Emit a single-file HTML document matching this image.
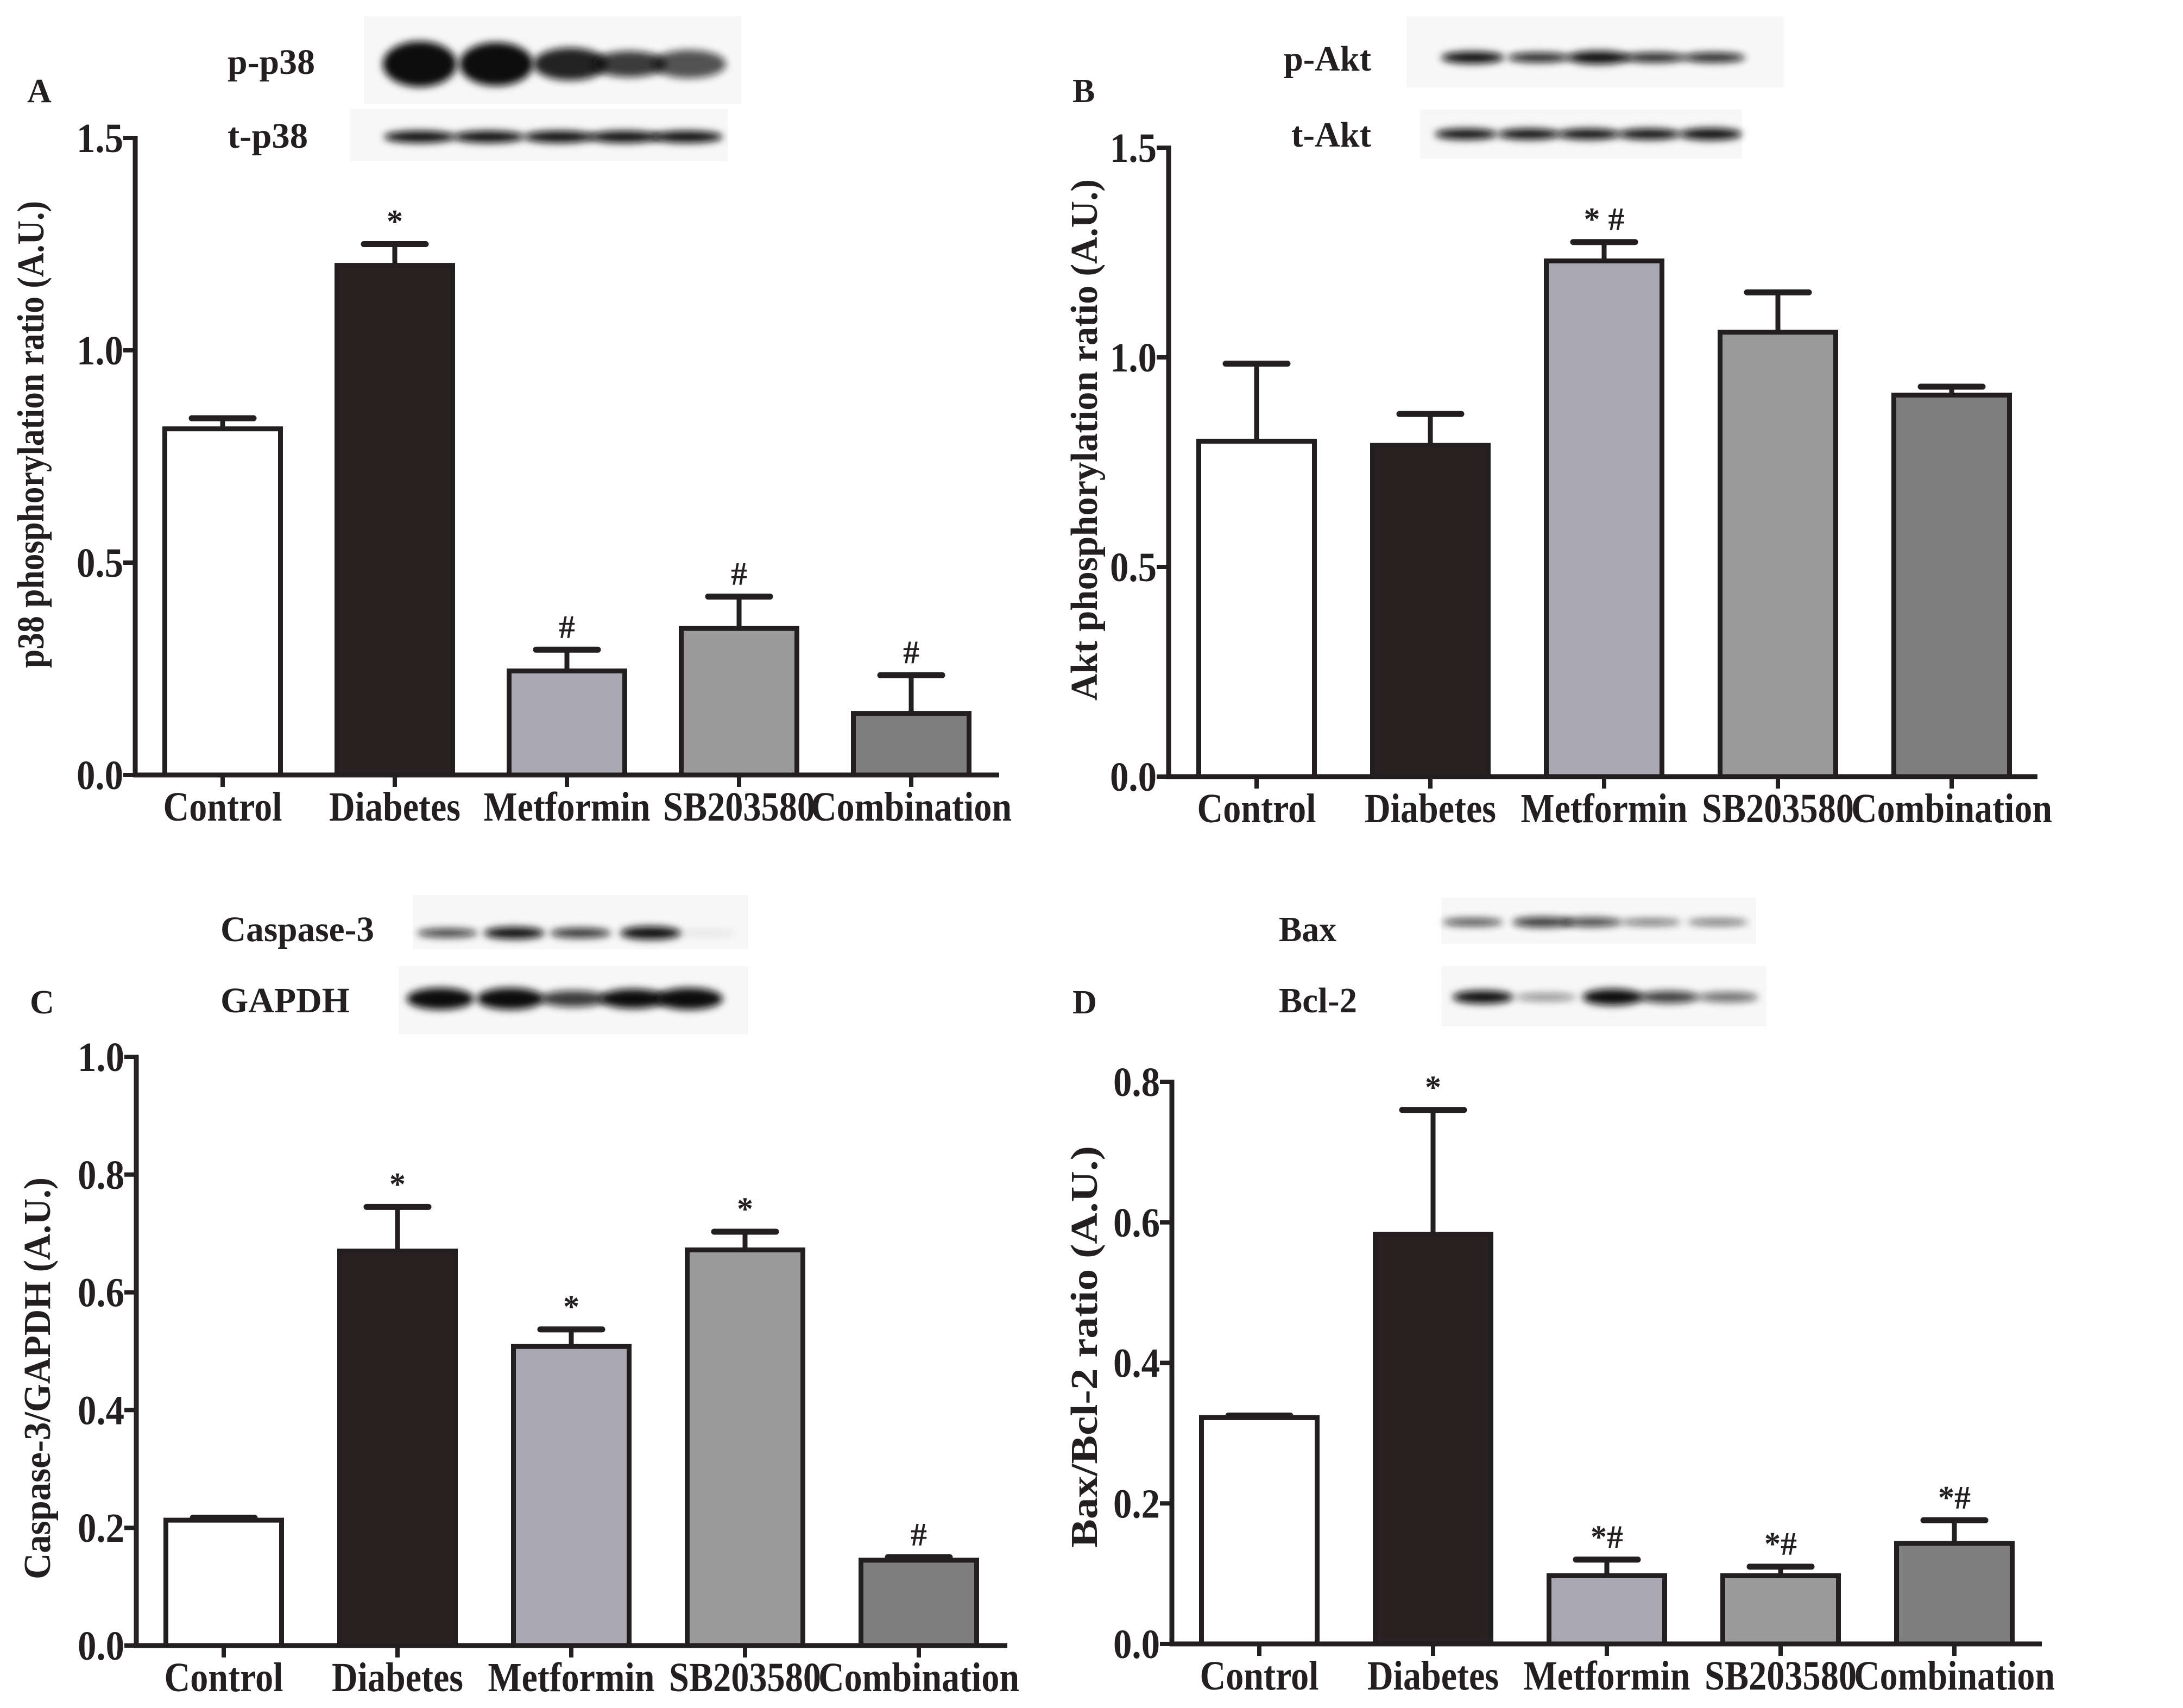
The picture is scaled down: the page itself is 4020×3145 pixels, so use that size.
<!DOCTYPE html>
<html><head><meta charset="utf-8"><style>
html,body{margin:0;padding:0;background:#fff}
svg{display:block}
text{font-family:"Liberation Serif",serif;font-weight:bold;fill:#231f20}
</style></head><body>
<svg id="fig" width="4020" height="3145" viewBox="0 0 4020 3145" xmlns="http://www.w3.org/2000/svg">
<defs>
<filter id="blur" x="-50%" y="-200%" width="200%" height="500%"><feGaussianBlur stdDeviation="7"/></filter>
</defs>
</svg>
<script>
const categories = ["Control","Diabetes","Metformin","SB203580","Combination"];
const aValues = [0.815, 1.20, 0.245, 0.345, 0.145];
const aErrTop = [0.84, 1.25, 0.295, 0.42, 0.235];
const aMarks = ["", "*", "#", "#", "#"];
const aTicks = ["0.0","0.5","1.0","1.5"];
const bValues = [0.80, 0.79, 1.23, 1.06, 0.91];
const bErrTop = [0.985, 0.865, 1.275, 1.155, 0.93];
const bMarks = ["", "", "* #", "", ""];
const bTicks = ["0.0","0.5","1.0","1.5"];
const cValues = [0.213, 0.67, 0.508, 0.672, 0.145];
const cErrTop = [0.217, 0.745, 0.537, 0.703, 0.150];
const cMarks = ["", "*", "*", "*", "#"];
const cTicks = ["0.0","0.2","0.4","0.6","0.8","1.0"];
const dValues = [0.322, 0.583, 0.097, 0.097, 0.143];
const dErrTop = [0.325, 0.76, 0.120, 0.110, 0.176];
const dMarks = ["", "*", "*#", "*#", "*#"];
const dTicks = ["0.0","0.2","0.4","0.6","0.8"];

const fills = ["#ffffff","#2a2123","#aaa9b3","#9a9a9a","#7f7f7f"];
const labelW = [219,242,307,280,370];
const NS = "http://www.w3.org/2000/svg";
const svg = document.getElementById('fig');
function el(tag, attrs, parent){
  const e = document.createElementNS(NS, tag);
  for (const k in attrs) e.setAttribute(k, attrs[k]);
  (parent||svg).appendChild(e);
  return e;
}

function panel(p){
  const g = el('g', {});
  
  
  const ymax = parseFloat(p.ticks[p.ticks.length-1]);
  const yScale = v => p.y0 - (v/ymax)*(p.y0 - p.yTop);
  const xScale = i => p.x0 + p.first + i*p.step;
  p.values.forEach((v,i)=>{
    const cx = xScale(i), bw = 213;
    const ey = yScale(p.err[i]), by = yScale(v);
    const eb = el('line', {x1:cx, x2:cx, y1:ey, y2:by, stroke:'#231f20','stroke-width':9}, g);
    
    
    const cap = el('line', {x1:cx-57, x2:cx+57, y1:ey, y2:ey, stroke:'#231f20','stroke-width':11,'stroke-linecap':'round'}, g);
    
    
    const r = el('rect', {x:cx-bw/2, y:by, width:bw, height:p.y0-by, fill:fills[i], stroke:'#231f20','stroke-width':9}, g);
    
    
    if (p.marks[i]) {
      const t = el('text', {x:cx, y:ey-22, 'font-size':60, 'text-anchor':'middle', 'font-weight':'normal'}, g);
      t.textContent = p.marks[i];
      
      
    }
    const tk = el('line', {x1:cx, x2:cx, y1:p.y0, y2:p.y0+22, stroke:'#231f20','stroke-width':8}, g);
    
    
    const lb = el('text', {x:cx, y:p.y0+84, 'font-size':76, 'text-anchor':'middle', textLength:labelW[i], lengthAdjust:'spacingAndGlyphs'}, g);
    lb.textContent = categories[i];
    
    
  });
  const ya = el('line', {x1:p.x0, x2:p.x0, y1:p.yTop-4, y2:p.y0+4, stroke:'#231f20','stroke-width':9}, g);
  
  
  const xa = el('line', {x1:p.x0-4, x2:p.xEnd, y1:p.y0, y2:p.y0, stroke:'#231f20','stroke-width':9}, g);
  
  
  p.ticks.forEach(t=>{
    const y = yScale(parseFloat(t));
    const tl = el('line', {x1:p.x0-22, x2:p.x0, y1:y, y2:y, stroke:'#231f20','stroke-width':8}, g);
    
    
    const tt = el('text', {x:p.x0-22, y:y+26, 'font-size':76, 'text-anchor':'end', textLength:86, lengthAdjust:'spacingAndGlyphs'}, g);
    tt.textContent = t;
    
    
  });
  const yt = el('text', {x:0, y:0, 'font-size':70, 'text-anchor':'middle', textLength:p.titleLen, lengthAdjust:'spacingAndGlyphs',
    transform:`translate(${p.titleX},${p.titleY}) rotate(-90)`}, g);
  yt.textContent = p.title;
  
  
  const pl = el('text', {x:p.letterX, y:p.letterY, 'font-size':62}, g);
  pl.textContent = p.letter;
  
  
}

function blot(b){
  const g = el('g', {});
  
  
  el('rect', {x:b.x, y:b.y, width:b.w, height:b.h, fill:'#f7f7f7'}, g);
  b.lanes.forEach((lx,i)=>{
    const band = el('ellipse', {cx:lx, cy:b.by, rx:b.rx, ry:b.ry[i], fill:'#111', opacity:b.op[i], filter:'url(#blur)'}, g);
    
    
  });
  const t = el('text', {x:b.lx, y:b.ly, 'font-size':66, textLength:b.lw, lengthAdjust:'spacingAndGlyphs'}, g);
  t.textContent = b.label;
  
  
}

blot({name:'blot-p-p38', x:670,y:30,w:695,h:162, by:118, rx:68, ry:[42,40,30,24,26], op:[1,1,0.9,0.8,0.7], lanes:[773,914,1050,1159,1269], label:'p-p38', lx:419, ly:136, lw:161});
blot({name:'blot-t-p38', x:644,y:200,w:696,h:97, by:252, rx:66, ry:[11,11,11,11,11], op:[1,1,1,1,1], lanes:[773,900,1030,1150,1265], label:'t-p38', lx:419, ly:272, lw:148});
blot({name:'blot-p-akt', x:2590,y:30,w:695,h:131, by:106, rx:58, ry:[11,9,12,9,9], op:[1,0.9,1,0.9,0.9], lanes:[2712,2834,2944,3047,3156], label:'p-Akt', lx:2364, ly:130, lw:161});
blot({name:'blot-t-akt', x:2615,y:202,w:593,h:90, by:247, rx:58, ry:[10,10,10,10,11], op:[1,1,1,1,1], lanes:[2700,2816,2926,3037,3150], label:'t-Akt', lx:2378, ly:270, lw:147});
blot({name:'blot-caspase-3', x:760,y:1648,w:618,h:100, by:1718, rx:56, ry:[8,11,9,12,6], op:[0.8,1,0.85,1,0.08], lanes:[824,947,1069,1198,1301], label:'Caspase-3', lx:406, ly:1733, lw:283});
blot({name:'blot-gapdh', x:734,y:1779,w:644,h:126, by:1839, rx:62, ry:[20,20,15,18,20], op:[1,1,0.8,1,1], lanes:[811,940,1056,1166,1269], label:'GAPDH', lx:406, ly:1864, lw:238});
blot({name:'blot-bax', x:2654,y:1653,w:580,h:85, by:1698, rx:56, ry:[7,9,8,6,6], op:[0.75,0.85,0.8,0.6,0.6], lanes:[2712,2841,2931,3040,3163], label:'Bax', lx:2355, ly:1733, lw:106});
blot({name:'blot-bcl-2', x:2654,y:1779,w:599,h:111, by:1836, rx:56, ry:[12,7,15,11,9], op:[1,0.45,1,0.8,0.6], lanes:[2731,2847,2970,3073,3182], label:'Bcl-2', lx:2355, ly:1864, lw:144});

panel({name:'panel-a-p38-chart', values:aValues, err:aErrTop, marks:aMarks, ticks:aTicks, x0:249, xEnd:1840, y0:1427, yTop:254, first:161, step:317,
  title:'p38 phosphorylation ratio (A.U.)', titleX:80, titleY:800, titleLen:860, letter:'A', letterX:50, letterY:188});
panel({name:'panel-b-akt-chart', values:bValues, err:bErrTop, marks:bMarks, ticks:bTicks, x0:2152, xEnd:3752, y0:1430, yTop:272, first:162, step:320,
  title:'Akt phosphorylation ratio (A.U.)', titleX:2020, titleY:810, titleLen:960, letter:'B', letterX:1975, letterY:188});
panel({name:'panel-c-caspase-chart', values:cValues, err:cErrTop, marks:cMarks, ticks:cTicks, x0:251, xEnd:1855, y0:3030, yTop:1946, first:161, step:320,
  title:'Caspase-3/GAPDH (A.U.)', titleX:92, titleY:2538, titleLen:740, letter:'C', letterX:55, letterY:1866});
panel({name:'panel-d-bax-bcl2-chart', values:dValues, err:dErrTop, marks:dMarks, ticks:dTicks, x0:2158, xEnd:3760, y0:3027, yTop:1992, first:161, step:320,
  title:'Bax/Bcl-2 ratio (A.U.)', titleX:2020, titleY:2480, titleLen:740, letter:'D', letterX:1975, letterY:1866});
</script>
</body></html>
